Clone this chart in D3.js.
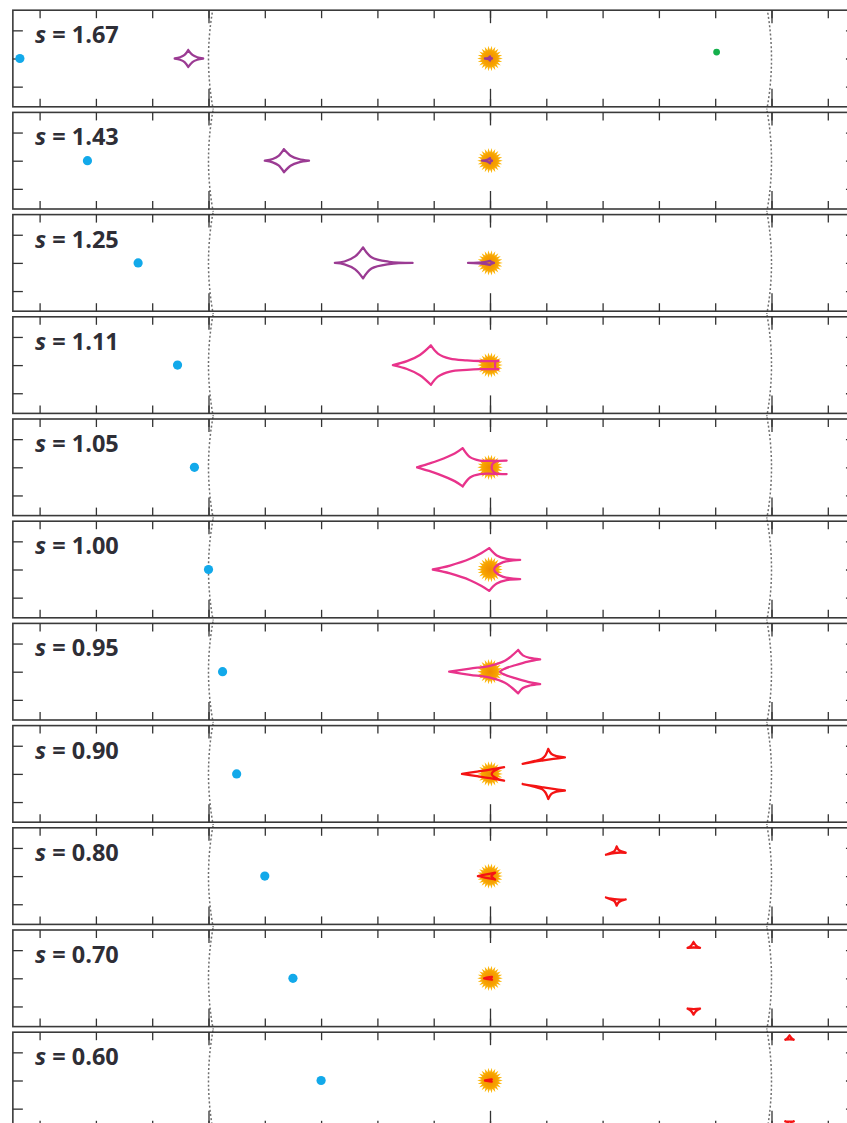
<!DOCTYPE html>
<html><head><meta charset="utf-8">
<script src="https://cdn.jsdelivr.net/npm/d3@7"></script>
<style>body{margin:0;background:#fff}svg{display:block}</style>
</head><body><svg id="c" width="847" height="1123"></svg>
<script>
// ---------- data ----------
const separations = [1.67, 1.43, 1.25, 1.11, 1.05, 1.00, 0.95, 0.90, 0.80, 0.70, 0.60];
const regimes = ["wide","wide","wide","resonant","resonant","resonant","resonant","close","close","close","close"];
const sourcePanel = 0;
const sourcePoint = [0.805, 0.023];
const xTicks = [-1.6,-1.4,-1.2,-1.0,-0.8,-0.6,-0.4,-0.2,0,0.2,0.4,0.6,0.8,1.0,1.2];
const xMajorTicks = [-1, 0, 1];
const yTicks = [-0.1, 0, 0.1];

// caustic curves per panel: curve = list of sides (cusp to cusp), side = list of [x, y] in Einstein radii
const causticCurves = [
 // s = 1.67
 [
  [[[-1.120,0],[-1.101,0.0045],[-1.085,0.0126],[-1.072,0.030]],
   [[-1.072,0.030],[-1.057,0.0126],[-1.040,0.0045],[-1.019,0]],
   [[-1.019,0],[-1.040,-0.0045],[-1.057,-0.0126],[-1.072,-0.030]],
   [[-1.072,-0.030],[-1.085,-0.0126],[-1.101,-0.0045],[-1.120,0]]],
  [[[-0.018,0],[-0.006,0.002],[0,0.007]],
   [[0,0.007],[0.002,0.002],[0.007,0]],
   [[0.007,0],[0.002,-0.002],[0,-0.007]],
   [[0,-0.007],[-0.006,-0.002],[-0.018,0]]]
 ],
 // s = 1.43
 [
  [[[-0.800,0],[-0.772,0.006],[-0.751,0.017],[-0.732,0.041]],
   [[-0.732,0.041],[-0.707,0.017],[-0.679,0.006],[-0.643,0]],
   [[-0.643,0],[-0.679,-0.006],[-0.707,-0.017],[-0.732,-0.041]],
   [[-0.732,-0.041],[-0.751,-0.017],[-0.772,-0.006],[-0.800,0]]],
  [[[-0.028,0],[-0.010,0.003],[0,0.009]],
   [[0,0.009],[0.002,0.003],[0.007,0]],
   [[0.007,0],[0.002,-0.003],[0,-0.009]],
   [[0,-0.009],[-0.010,-0.003],[-0.028,0]]]
 ],
 // s = 1.25
 [
  [[[-0.551,0],[-0.517,0.005],[-0.479,0.023],[-0.451,0.055]],
   [[-0.451,0.055],[-0.421,0.020],[-0.358,0.004],[-0.275,0]],
   [[-0.275,0],[-0.358,-0.004],[-0.421,-0.020],[-0.451,-0.055]],
   [[-0.451,-0.055],[-0.479,-0.023],[-0.517,-0.005],[-0.551,0]]],
  [[[-0.078,0],[-0.020,0.003],[0,0.007]],
   [[0,0.007],[0.005,0.003],[0.014,0]],
   [[0.014,0],[0.005,-0.003],[0,-0.007]],
   [[0,-0.007],[-0.020,-0.003],[-0.078,0]]]
 ],
 // s = 1.11
 [
  [[[-0.345,0],[-0.295,0.014],[-0.249,0.036],[-0.210,0.070]],
   [[-0.210,0.070],[-0.185,0.041],[-0.142,0.023],[-0.082,0.017],[-0.036,0.0145],[0.030,0.0145]],
   [[0.030,0.0145],[0.020,0.013],[0.018,0],[0.020,-0.013],[0.030,-0.0145]],
   [[0.030,-0.0145],[-0.036,-0.0145],[-0.082,-0.017],[-0.142,-0.023],[-0.185,-0.041],[-0.210,-0.070]],
   [[-0.210,-0.070],[-0.249,-0.036],[-0.295,-0.014],[-0.345,0]]]
 ],
 // s = 1.05
 [
  [[[-0.259,0],[-0.220,0.012],[-0.184,0.024],[-0.124,0.050],[-0.097,0.068]],
   [[-0.097,0.068],[-0.071,0.036],[-0.036,0.024],[0.011,0.023],[0.059,0.024]],
   [[0.059,0.024],[0.021,0.021],[0.009,0.012],[0.006,0],[0.009,-0.012],[0.021,-0.021],[0.059,-0.024]],
   [[0.059,-0.024],[0.011,-0.023],[-0.036,-0.024],[-0.071,-0.036],[-0.097,-0.068]],
   [[-0.097,-0.068],[-0.124,-0.050],[-0.184,-0.024],[-0.220,-0.012],[-0.259,0]]]
 ],
 // s = 1.00
 [
  [[[-0.203,0],[-0.142,0.014],[-0.071,0.038],[-0.030,0.059],[-0.003,0.076]],
   [[-0.003,0.076],[0.024,0.050],[0.059,0.038],[0.107,0.034]],
   [[0.107,0.034],[0.047,0.026],[0.018,0.008],[0.015,0],[0.018,-0.008],[0.047,-0.026],[0.107,-0.034]],
   [[0.107,-0.034],[0.059,-0.038],[0.024,-0.050],[-0.003,-0.076]],
   [[-0.003,-0.076],[-0.030,-0.059],[-0.071,-0.038],[-0.142,-0.014],[-0.203,0]]]
 ],
 // s = 0.95
 [
  [[[-0.145,0],[-0.071,0.011],[0,0.021],[0.053,0.039],[0.078,0.057],[0.100,0.077]],
   [[0.100,0.077],[0.117,0.058],[0.142,0.049],[0.178,0.044]],
   [[0.178,0.044],[0.135,0.036],[0.089,0.023],[0.053,0.011],[0.036,0],[0.053,-0.011],[0.089,-0.023],[0.135,-0.036],[0.178,-0.044]],
   [[0.178,-0.044],[0.142,-0.049],[0.117,-0.058],[0.100,-0.077]],
   [[0.100,-0.077],[0.078,-0.057],[0.053,-0.039],[0,-0.021],[-0.071,-0.011],[-0.145,0]]]
 ],
 // s = 0.90
 [
  [[[-0.0995,0],[-0.053,0.007],[0,0.015],[0.050,0.024]],
   [[0.050,0.024],[0.028,0.018],[0.012,0.009],[0.006,0],[0.012,-0.009],[0.028,-0.018],[0.050,-0.024]],
   [[0.050,-0.024],[0,-0.015],[-0.053,-0.007],[-0.0995,0]]],
  [[[0.116,0.036],[0.160,0.046],[0.186,0.055],[0.197,0.066],[0.207,0.089]],
   [[0.207,0.089],[0.218,0.071],[0.236,0.063],[0.266,0.059]],
   [[0.266,0.059],[0.225,0.053],[0.190,0.048],[0.150,0.042],[0.116,0.036]]],
  [[[0.116,-0.036],[0.160,-0.046],[0.186,-0.055],[0.197,-0.066],[0.207,-0.089]],
   [[0.207,-0.089],[0.218,-0.071],[0.236,-0.063],[0.266,-0.059]],
   [[0.266,-0.059],[0.225,-0.053],[0.190,-0.048],[0.150,-0.042],[0.116,-0.036]]]
 ],
 // s = 0.80
 [
  [[[-0.043,0],[-0.018,0.005],[0.018,0.012]],
   [[0.018,0.012],[0.009,0.005],[0.005,0],[0.009,-0.005],[0.018,-0.012]],
   [[0.018,-0.012],[-0.018,-0.005],[-0.043,0]]],
  [[[0.412,0.076],[0.430,0.083],[0.442,0.089],[0.450,0.105]],
   [[0.450,0.105],[0.458,0.092],[0.482,0.083]],
   [[0.482,0.083],[0.452,0.083],[0.430,0.080],[0.412,0.076]]],
  [[[0.412,-0.076],[0.430,-0.083],[0.442,-0.089],[0.450,-0.105]],
   [[0.450,-0.105],[0.458,-0.092],[0.482,-0.083]],
   [[0.482,-0.083],[0.452,-0.083],[0.430,-0.080],[0.412,-0.076]]]
 ],
 // s = 0.70
 [
  [[[-0.021,0],[-0.007,0.003],[0.007,0.005]],
   [[0.007,0.005],[0.004,0.002],[0.0035,0],[0.004,-0.002],[0.007,-0.005]],
   [[0.007,-0.005],[-0.007,-0.003],[-0.021,0]]],
  [[[0.702,0.108],[0.714,0.1155],[0.723,0.129]],
   [[0.723,0.129],[0.733,0.1155],[0.746,0.108]],
   [[0.746,0.108],[0.724,0.1095],[0.702,0.108]]],
  [[[0.702,-0.108],[0.714,-0.1155],[0.723,-0.129]],
   [[0.723,-0.129],[0.733,-0.1155],[0.746,-0.108]],
   [[0.746,-0.108],[0.724,-0.1095],[0.702,-0.108]]]
 ],
 // s = 0.60
 [
  [[[-0.018,0],[-0.006,0.002],[0.006,0.004]],
   [[0.006,0.004],[0.003,0],[0.006,-0.004]],
   [[0.006,-0.004],[-0.006,-0.002],[-0.018,0]]],
  [[[1.049,0.145],[1.057,0.151],[1.064,0.160]],
   [[1.064,0.160],[1.071,0.151],[1.079,0.145]],
   [[1.079,0.145],[1.064,0.146],[1.049,0.145]]],
  [[[1.049,-0.145],[1.057,-0.151],[1.064,-0.160]],
   [[1.064,-0.160],[1.071,-0.151],[1.079,-0.145]],
   [[1.079,-0.145],[1.064,-0.146],[1.049,-0.145]]]
 ]
];

// ---------- styles / layout ----------
const regimeColor = {wide:"#9b3b93", resonant:"#e8338b", close:"#f41414"};
const W = 847, H = 1123;
const K = 281.5, X0 = 490;
const PITCH = 102.2, C0 = 58.5, HALF = 48.3;
const INK = "#333";

const svg = d3.select("#c");
const defs = svg.append("defs");
const grad = defs.append("radialGradient").attr("id","sunGrad");
grad.append("stop").attr("offset","0%").attr("stop-color","#f08a00");
grad.append("stop").attr("offset","55%").attr("stop-color","#f7a300");
grad.append("stop").attr("offset","100%").attr("stop-color","#ffc21a");

const x = d3.scaleLinear().domain([-1.695, 1.3]).range([X0 - 1.695*K, X0 + 1.3*K]);
const [xl, xr] = x.range();

function sunPoints(cx, cy){
  const n = 22, ro = 12.8, ri = 8.5, pts = [];
  for (let j = 0; j < 2*n; j++){
    const a = Math.PI * j / n, r = j % 2 ? ri : ro;
    pts.push([cx + r*Math.cos(a), cy + r*Math.sin(a)]);
  }
  return pts.map(p => p.join(",")).join(" ");
}

separations.forEach((s, i) => {
  const yc = C0 + i*PITCH, top = yc - HALF, bot = yc + HALF;
  const y = d3.scaleLinear().domain([-HALF/K, HALF/K]).range([bot, top]);
  const g = svg.append("g");

  defs.append("clipPath").attr("id","clip"+i).append("rect")
    .attr("x", xl).attr("y", top).attr("width", xr-xl).attr("height", bot-top);
  const rTop = i === 0 ? top : yc - PITCH/2;
  defs.append("clipPath").attr("id","ring"+i).append("rect")
    .attr("x", 0).attr("y", rTop).attr("width", W).attr("height", yc + PITCH/2 - rTop);

  // Einstein ring
  g.append("ellipse")
    .attr("cx", x(0)).attr("cy", y(0))
    .attr("rx", x(1)-x(0)).attr("ry", y(0)-y(1))
    .attr("fill","none").attr("stroke","#6f6f6f").attr("stroke-width",1.5)
    .attr("stroke-dasharray","2,2.2").attr("clip-path",`url(#ring${i})`);

  // frame
  g.append("rect").attr("x", xl).attr("y", top).attr("width", xr-xl).attr("height", bot-top)
    .attr("fill","none").attr("stroke","#3a3a3a").attr("stroke-width",1.6);

  const styleAxis = sel => { sel.select(".domain").remove(); sel.selectAll("line").attr("stroke",INK).attr("stroke-width",1.3); };
  g.append("g").attr("transform",`translate(0,${top})`)
    .call(d3.axisBottom(x).tickValues(xTicks).tickSize(8).tickFormat("")).call(styleAxis);
  g.append("g").attr("transform",`translate(0,${top})`)
    .call(d3.axisBottom(x).tickValues(xMajorTicks).tickSize(13).tickFormat("")).call(styleAxis);
  g.append("g").attr("transform",`translate(0,${bot})`)
    .call(d3.axisTop(x).tickValues(xTicks).tickSize(8).tickFormat("")).call(styleAxis);
  g.append("g").attr("transform",`translate(0,${bot})`)
    .call(d3.axisTop(x).tickValues(xMajorTicks).tickSize(18).tickFormat("")).call(styleAxis);
  g.append("g").attr("transform",`translate(${xl},0)`)
    .call(d3.axisRight(y).tickValues(yTicks).tickSize(10).tickFormat("")).call(styleAxis);
  g.append("g").attr("transform",`translate(${xr},0)`)
    .call(d3.axisLeft(y).tickValues(yTicks).tickSize(10).tickFormat("")).call(styleAxis);

  // label
  const t = g.append("text").attr("x", 35).attr("y", top + 33)
    .attr("font-family","'Open Sans', sans-serif").attr("font-weight",700)
    .attr("font-size",23.5).attr("fill","#2e2e36");
  t.append("tspan").attr("font-style","italic").text("s");
  t.append("tspan").text(" = " + s.toFixed(2));

  const inner = g.append("g").attr("clip-path",`url(#clip${i})`);
  // planet
  inner.append("circle").attr("cx", x(-s)).attr("cy", y(0)).attr("r",4.6).attr("fill","#12a9ea");
  // source
  if (i === sourcePanel){
    inner.append("circle").attr("cx", x(sourcePoint[0])).attr("cy", y(sourcePoint[1])).attr("r",3.4).attr("fill","#14b04c");
  }
  // host star
  inner.append("polygon").attr("points", sunPoints(x(0), y(0))).attr("fill","url(#sunGrad)");
  // caustics
  const line = d3.line().x(d => x(d[0])).y(d => y(d[1])).curve(d3.curveCatmullRom.alpha(0.5));
  inner.selectAll("path.caustic").data(causticCurves[i]).join("path")
    .attr("class","caustic")
    .attr("d", curve => curve.map(side => line(side)).join(""))
    .attr("fill","none").attr("stroke", regimeColor[regimes[i]])
    .attr("stroke-width",2.3).attr("stroke-linejoin","round").attr("stroke-linecap","round");
});
</script>
</body></html>
